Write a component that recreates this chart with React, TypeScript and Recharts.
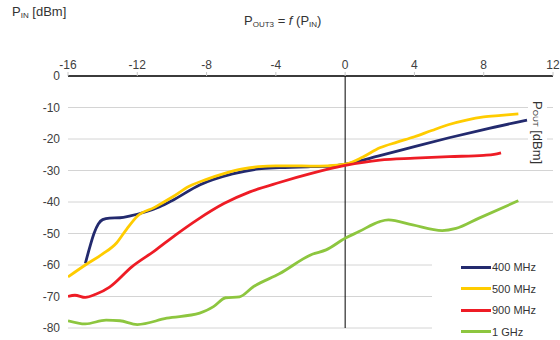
import React from "react";
import { LineChart, Line, XAxis, YAxis, CartesianGrid, ReferenceLine } from "recharts";

// P_IN [dBm] -> P_OUT [dBm] for each carrier frequency
const mhz400 = [
  { x: -15, y: -59.5 },
  { x: -14.75, y: -54.5 },
  { x: -14.5, y: -50 },
  { x: -14.25, y: -47 },
  { x: -14, y: -45.6 },
  { x: -13.6, y: -45.1 },
  { x: -13, y: -45 },
  { x: -12.4, y: -44.4 },
  { x: -11.5, y: -43.1 },
  { x: -10.7, y: -41.5 },
  { x: -10, y: -39.6 },
  { x: -8.4, y: -34.6 },
  { x: -6.5, y: -31.1 },
  { x: -5, y: -29.5 },
  { x: -3.8, y: -29.1 },
  { x: -2, y: -28.8 },
  { x: -1, y: -28.7 },
  { x: 0, y: -28 },
  { x: 2, y: -25.3 },
  { x: 4, y: -22.4 },
  { x: 6, y: -19.6 },
  { x: 8, y: -17 },
  { x: 10.5, y: -14 },
];

const mhz500 = [
  { x: -16, y: -63.8 },
  { x: -15, y: -60 },
  { x: -14, y: -56.5 },
  { x: -13.2, y: -53 },
  { x: -12.6, y: -48.5 },
  { x: -12, y: -44.5 },
  { x: -11, y: -41.7 },
  { x: -10, y: -38.5 },
  { x: -9, y: -35 },
  { x: -8, y: -32.8 },
  { x: -7, y: -31 },
  { x: -6, y: -29.6 },
  { x: -5, y: -28.8 },
  { x: -4, y: -28.5 },
  { x: -3, y: -28.5 },
  { x: -2, y: -28.6 },
  { x: -1, y: -28.5 },
  { x: 0, y: -28 },
  { x: 1, y: -25.8 },
  { x: 2, y: -22.8 },
  { x: 3, y: -21 },
  { x: 4, y: -19.3 },
  { x: 5, y: -17.3 },
  { x: 6, y: -15.4 },
  { x: 7, y: -14 },
  { x: 8, y: -13 },
  { x: 9, y: -12.5 },
  { x: 10, y: -12 },
];

const mhz900 = [
  { x: -16, y: -70 },
  { x: -15.6, y: -69.6 },
  { x: -15, y: -70.3 },
  { x: -14.4, y: -69.3 },
  { x: -13.6, y: -67 },
  { x: -12.3, y: -60.5 },
  { x: -11, y: -55.5 },
  { x: -9.8, y: -50.5 },
  { x: -8.5, y: -45.5 },
  { x: -7, y: -40.5 },
  { x: -5.5, y: -36.8 },
  { x: -3.8, y: -33.8 },
  { x: -2, y: -31 },
  { x: 0, y: -28.4 },
  { x: 2, y: -26.7 },
  { x: 4, y: -26.1 },
  { x: 6, y: -25.6 },
  { x: 8, y: -25.2 },
  { x: 8.6, y: -24.9 },
  { x: 9, y: -24.4 },
];

const ghz1 = [
  { x: -16, y: -77.7 },
  { x: -15, y: -78.7 },
  { x: -13.8, y: -77.5 },
  { x: -13, y: -77.7 },
  { x: -12, y: -78.9 },
  { x: -10.3, y: -76.9 },
  { x: -8.4, y: -75.3 },
  { x: -7.6, y: -73.2 },
  { x: -6.9, y: -70.4 },
  { x: -6.1, y: -70.1 },
  { x: -5.3, y: -66.9 },
  { x: -3.8, y: -62.8 },
  { x: -1.9, y: -56.6 },
  { x: -1.1, y: -55.2 },
  { x: 0, y: -51.5 },
  { x: 0.8, y: -49.4 },
  { x: 2, y: -46.2 },
  { x: 2.5, y: -45.7 },
  { x: 3.9, y: -47.3 },
  { x: 5.6, y: -49.1 },
  { x: 6.4, y: -48.4 },
  { x: 7.7, y: -45.2 },
  { x: 10, y: -39.6 },
];

const xTicks = [-16, -12, -8, -4, 0, 4, 8, 12];
const yTicks = [0, -10, -20, -30, -40, -50, -60, -70, -80];

const series = [
  { name: "400 MHz", data: mhz400, color: "#232a6e" },
  { name: "500 MHz", data: mhz500, color: "#ffcc00" },
  { name: "900 MHz", data: mhz900, color: "#ee1c25" },
  { name: "1 GHz", data: ghz1, color: "#8dc63f" },
];

const FONT = "'Liberation Sans', Arial, sans-serif";
const sub: React.CSSProperties = { fontSize: 8, verticalAlign: "-2px" };

export default function App() {
  return (
    <div style={{ position: "absolute", left: 0, top: 0, width: 560, height: 340, background: "#fff", fontFamily: FONT }}>
      <LineChart width={560} height={340} margin={{ top: 0, right: 7, bottom: 12, left: 0 }}>
        <CartesianGrid vertical={false} stroke="#d4d4d4" />
        <XAxis
          type="number"
          dataKey="x"
          orientation="top"
          domain={[-16, 12]}
          ticks={xTicks}
          height={76}
          axisLine={{ stroke: "#000", strokeWidth: 1.5 }}
          tickLine={{ stroke: "#c8c8c8" }}
          tickSize={4}
          tickMargin={3}
          tick={{ fill: "#404040", fontSize: 12, fontFamily: FONT }}
          allowDataOverflow
        />
        <YAxis
          type="number"
          dataKey="y"
          domain={[-80, 0]}
          ticks={yTicks}
          width={68}
          axisLine={false}
          tickLine={false}
          tickSize={0}
          tickMargin={8}
          tick={{ fill: "#404040", fontSize: 12, fontFamily: FONT }}
        />
        <ReferenceLine x={0} stroke="#000" strokeWidth={1} />
        {series.map((s) => (
          <Line
            key={s.name}
            data={s.data}
            dataKey="y"
            name={s.name}
            type="monotone"
            stroke={s.color}
            strokeWidth={2.8}
            dot={false}
            isAnimationActive={false}
          />
        ))}
      </LineChart>

      <div style={{ position: "absolute", left: 12, top: 4, fontSize: 13, color: "#333" }}>
        P<span style={sub}>IN</span> [dBm]
      </div>
      <div style={{ position: "absolute", left: 244, top: 13, fontSize: 13, color: "#333" }}>
        P<span style={sub}>OUT3</span> = <i>f</i> (P<span style={sub}>IN</span>)
      </div>
      <div
        style={{
          position: "absolute",
          left: 528,
          top: 101,
          writingMode: "vertical-rl",
          fontSize: 13,
          color: "#333",
          background: "#fff",
          padding: "0 2px",
        }}
      >
        P<span style={sub}>OUT</span> [dBm]
      </div>

      <div style={{ position: "absolute", left: 432, top: 250, width: 128, height: 90, background: "#fff" }}>
        {series.map((s, i) => (
          <div
            key={s.name}
            style={{ position: "absolute", left: 29, top: 11 + i * 21.5, display: "flex", alignItems: "center", fontSize: 11, color: "#333" }}
          >
            <span style={{ display: "inline-block", width: 30, height: 3, background: s.color, marginRight: 1 }} />
            {s.name}
          </div>
        ))}
      </div>
    </div>
  );
}
